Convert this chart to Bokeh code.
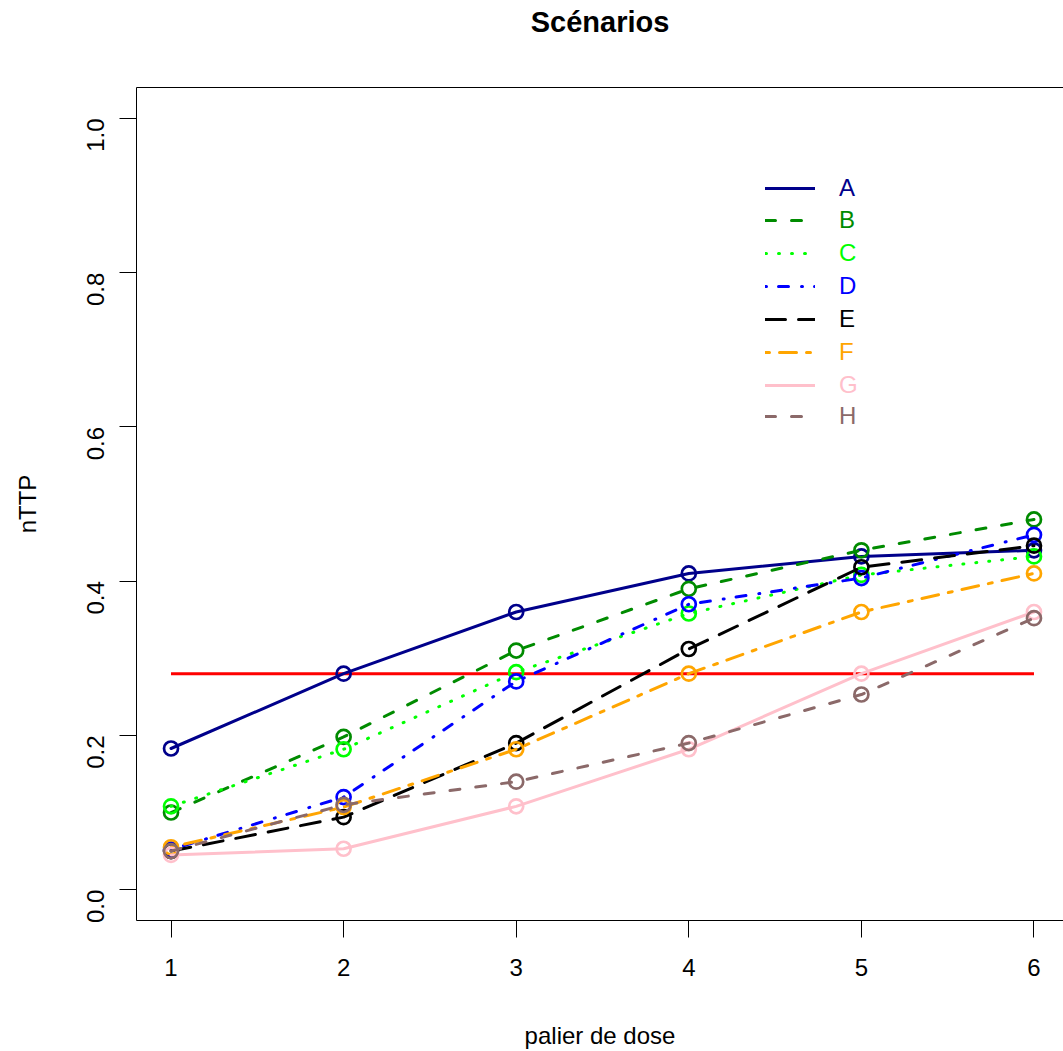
import math
from bokeh.plotting import figure
from bokeh.models import Range1d, FixedTicker, PrintfTickFormatter, LinearAxis, Legend, LegendItem
from bokeh.embed import file_html
from bokeh.resources import INLINE

# ---- data ----
doses = [1, 2, 3, 4, 5, 6]
target = 0.28
names = ["A", "B", "C", "D", "E", "F", "G", "H"]
sc_A = [0.183, 0.280, 0.360, 0.410, 0.432, 0.440]
sc_B = [0.100, 0.198, 0.310, 0.390, 0.440, 0.480]
sc_C = [0.108, 0.182, 0.282, 0.358, 0.408, 0.432]
sc_D = [0.052, 0.120, 0.270, 0.370, 0.404, 0.460]
sc_E = [0.050, 0.094, 0.190, 0.312, 0.418, 0.446]
sc_F = [0.055, 0.107, 0.182, 0.280, 0.360, 0.410]
sc_G = [0.045, 0.053, 0.108, 0.182, 0.280, 0.360]
sc_H = [0.050, 0.110, 0.140, 0.190, 0.253, 0.352]
y_ticks = [0.0, 0.2, 0.4, 0.6, 0.8, 1.0]
title_text = "Scénarios"

series = [sc_A, sc_B, sc_C, sc_D, sc_E, sc_F, sc_G, sc_H]
colors = ["#00008B", "#008B00", "#00FF00", "#0000FF", "#000000", "#FFA500", "#FFC0CB", "#8B6969"]
dashes = ["solid", "10 16", "1 12", "1 12 10 13", "20 13", "4 10 17 10", "solid", "10 16"]

FONT = "Liberation Sans"
W, H = 1063, 1051
BL, BT, BB = 136, 87, 130

p = figure(width=W, height=H,
           x_range=Range1d(0.8, 6.171), y_range=Range1d(-0.04, 1.04),
           output_backend="svg", toolbar_location=None,
           min_border_left=BL, min_border_right=0, min_border_top=BT, min_border_bottom=BB)
p.outline_line_color = None
p.xgrid.visible = False
p.ygrid.visible = False
p.background_fill_color = "white"
p.border_fill_color = "white"

xa = p.below[0]
xa.ticker = FixedTicker(ticks=doses)
xa.major_tick_out = 17
xa.major_tick_in = 0
xa.minor_tick_out = 0
xa.minor_tick_in = 0
xa.axis_line_color = "black"
xa.major_tick_line_color = "black"
xa.major_label_text_font = FONT
xa.major_label_text_font_size = "24px"
xa.major_label_text_color = "black"
xa.major_label_standoff = 21
xa.axis_label = "palier de dose"
xa.axis_label_text_font = FONT
xa.axis_label_text_font_size = "24px"
xa.axis_label_text_font_style = "normal"
xa.axis_label_text_color = "black"
xa.axis_label_standoff = 43

ya = p.left[0]
ya.ticker = FixedTicker(ticks=y_ticks)
ya.formatter = PrintfTickFormatter(format="%.1f")
ya.major_tick_out = 17
ya.major_tick_in = 0
ya.minor_tick_out = 0
ya.minor_tick_in = 0
ya.axis_line_color = "black"
ya.major_tick_line_color = "black"
ya.major_label_orientation = math.pi / 2
ya.major_label_text_font = FONT
ya.major_label_text_font_size = "24px"
ya.major_label_text_color = "black"
ya.major_label_standoff = 24
ya.axis_label = "nTTP"
ya.axis_label_text_font = FONT
ya.axis_label_text_font_size = "24px"
ya.axis_label_text_font_style = "normal"
ya.axis_label_text_color = "black"
ya.axis_label_standoff = 35

# top border of the box; a blank axis label reserves space below the title
top = LinearAxis(ticker=FixedTicker(ticks=[]), major_tick_out=0, major_tick_in=0,
                 minor_tick_out=0, minor_tick_in=0, axis_line_color="black",
                 major_label_text_font_size="0px",
                 axis_label=" ", axis_label_text_font_size="10px", axis_label_standoff=34)
p.add_layout(top, "above")

p.title.text = title_text
p.title.align = "center"
p.title.text_font = FONT
p.title.text_font_size = "29px"
p.title.text_font_style = "bold"
p.title.text_color = "black"
p.title.standoff = 4
p.title.offset = 3

# target line
p.line(doses, [target] * len(doses), line_color="#FF0000", line_width=3)

line_renderers = []
for ys, col, dash in zip(series, colors, dashes):
    r = p.line(doses, ys, line_color=col, line_width=3, line_dash=dash, line_cap="round")
    p.scatter(doses, ys, marker="circle", size=14, fill_color=None, line_color=col, line_width=2.7)
    line_renderers.append(r)

# legend: one Legend per entry so each label can take its series colour
row_centers = [189, 221, 254, 287, 320, 353, 386, 417]
frame_bottom = H - BB
leg_h = 28
for name, r, col, cy in zip(names, line_renderers, colors, row_centers):
    lg = Legend(items=[LegendItem(label=name, renderers=[r])],
                location=(765 - BL, frame_bottom - cy - leg_h / 2),
                padding=0, margin=0, spacing=0,
                glyph_width=50, glyph_height=leg_h, label_height=leg_h,
                label_standoff=24,
                label_text_font=FONT, label_text_font_size="24px",
                label_text_color=col,
                border_line_color=None, background_fill_alpha=0)
    p.add_layout(lg, "center")

open("out.html", "w").write(file_html(p, INLINE))
